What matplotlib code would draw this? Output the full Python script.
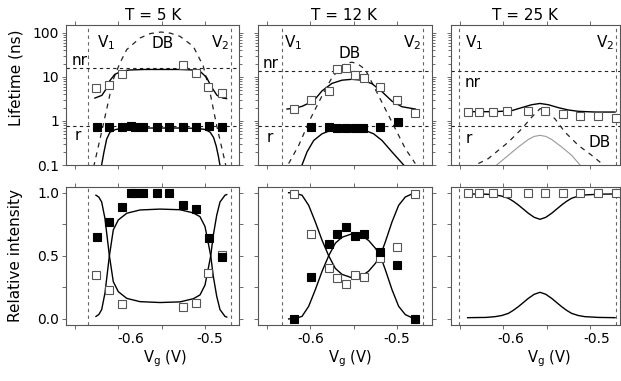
import matplotlib
matplotlib.use('Agg')
import matplotlib.pyplot as plt
import matplotlib.transforms as mtransforms
from matplotlib.ticker import FixedLocator, LogLocator, NullFormatter

plt.rcParams['font.family'] = ['DejaVu Sans']
plt.rcParams['mathtext.default'] = 'regular'
plt.rcParams['axes.unicode_minus'] = False

W, H = 621, 381

titles = ['T = 5 K', 'T = 12 K', 'T = 25 K']

# ---------- T = 5 K ----------
vg_5 = [-0.6250, -0.6104, -0.5954, -0.5853, -0.5807, -0.5711, -0.5557, -0.5411, -0.5257, -0.5106, -0.4953, -0.4806]
tau_r_5 = [0.72, 0.74, 0.72, 0.75, 0.74, 0.74, 0.73, 0.73, 0.72, 0.72, 0.78, 0.73]
int_r_5 = [0.65, 0.77, 0.89, 1.0, 1.0, 1.0, 1.0, 1.0, 0.90, 0.87, 0.64, 0.49]
vg_nr_5 = [-0.6258, -0.6104, -0.5954, -0.5256, -0.5103, -0.4961, -0.4806]
tau_nr_5 = [5.5, 6.5, 11.4, 19.0, 12.4, 6.0, 4.3]
int_nr_5 = [0.35, 0.23, 0.116, 0.097, 0.13, 0.36, 0.51]

fit_nr_x_5 = [-0.627, -0.619, -0.613, -0.610, -0.604, -0.596, -0.587, -0.570, -0.550, -0.530,
              -0.513, -0.506, -0.502, -0.498, -0.492, -0.486, -0.479, -0.475]
fit_nr_5 = [3.3, 3.8, 5.7, 8.1, 11.4, 13.5, 14.3, 14.7, 14.7, 14.7, 14.3, 13.5, 11.5, 9.6, 5.7, 3.8, 3.3, 3.2]
fit_r_x_5 = [-0.6195, -0.6165, -0.6134, -0.6096, -0.603, -0.594, -0.570, -0.550, -0.530, -0.510,
             -0.500, -0.494, -0.490, -0.487, -0.4845, -0.4825]
fit_r_5 = [0.095, 0.2, 0.39, 0.557, 0.64, 0.68, 0.69, 0.69, 0.69, 0.68, 0.64, 0.557, 0.42, 0.27, 0.16, 0.095]
db_x_5 = [-0.6285, -0.6211, -0.6134, -0.6058, -0.5980, -0.5903, -0.5750, -0.5630, -0.5507, -0.5400,
          -0.5288, -0.5134, -0.5019, -0.4941, -0.4864, -0.4768, -0.4755]
db_5 = [0.09, 0.39, 1.86, 8.8, 20.8, 41.5, 76, 96, 104, 98, 83, 49, 17.5, 4.4, 0.78, 0.118, 0.09]
int_x_5 = [-0.6258, -0.6225, -0.6192, -0.6154, -0.6104, -0.6058, -0.6000, -0.5903, -0.5750, -0.5519,
           -0.5288, -0.5134, -0.5057, -0.4999, -0.4961, -0.4933, -0.4903, -0.4864, -0.4826, -0.4768, -0.4748]
dip_5 = [0.98, 0.965, 0.926, 0.795, 0.505, 0.295, 0.216, 0.163, 0.137, 0.13, 0.135, 0.16, 0.19,
         0.268, 0.4, 0.5, 0.663, 0.82, 0.926, 0.98, 0.985]
hump_5 = [0.02, 0.035, 0.074, 0.205, 0.495, 0.705, 0.784, 0.837, 0.863, 0.87, 0.865, 0.84, 0.81,
          0.732, 0.6, 0.5, 0.337, 0.18, 0.074, 0.02, 0.015]

# ---------- T = 12 K ----------
vg_12 = [-0.6192, -0.5989, -0.5788, -0.5692, -0.5588, -0.5487, -0.5384, -0.5192, -0.4999, -0.4795]
tau_nr_12 = [1.86, 2.96, 4.8, 14.7, 16.1, 10.8, 9.6, 5.9, 2.96, 1.49]
int_nr_12 = [0.99, 0.671, 0.405, 0.321, 0.274, 0.347, 0.332, 0.484, 0.571, 0.99]
int_r_12 = [0.0, 0.332, 0.597, 0.676, 0.729, 0.658, 0.671, 0.531, 0.431, 0.0]
vg_r_12 = [-0.5992, -0.5790, -0.5694, -0.5588, -0.5486, -0.5386, -0.5190, -0.4985]
tau_r_12 = [0.745, 0.72, 0.707, 0.70, 0.70, 0.696, 0.745, 0.93]

fit_nr_x_12 = [-0.6269, -0.6180, -0.6096, -0.5961, -0.5865, -0.5750, -0.5634, -0.5519, -0.5403, -0.5288,
               -0.5172, -0.5057, -0.4942, -0.4788]
fit_nr_12 = [1.86, 1.95, 2.14, 2.86, 4.8, 7.1, 8.4, 8.8, 8.4, 7.0, 4.6, 2.8, 2.1, 1.86]
fit_r_x_12 = [-0.6096, -0.6038, -0.5961, -0.5865, -0.5769, -0.5673, -0.5519, -0.5365, -0.5269, -0.5172,
              -0.5057, -0.4922]
fit_r_12 = [0.1, 0.198, 0.36, 0.51, 0.607, 0.63, 0.63, 0.607, 0.51, 0.36, 0.198, 0.1]
db_x_12 = [-0.6250, -0.6134, -0.6000, -0.5865, -0.5750, -0.5634, -0.5580, -0.5519, -0.5450, -0.5365,
           -0.5249, -0.5134, -0.5018, -0.4903, -0.4788]
db_12 = [0.108, 0.279, 1.11, 3.7, 9.6, 17.5, 20.5, 21.5, 19.5, 14.7, 5.2, 1.86, 0.66, 0.235, 0.108]
int_x_12 = [-0.6250, -0.6173, -0.6096, -0.6019, -0.5942, -0.5865, -0.5788, -0.5711, -0.5634, -0.5519,
            -0.5403, -0.5326, -0.5249, -0.5192, -0.5134, -0.5057, -0.4980, -0.4903, -0.4795]
dip_12 = [1.0, 0.995, 0.98, 0.90, 0.768, 0.624, 0.5, 0.4, 0.353, 0.326, 0.342, 0.379, 0.44, 0.5,
          0.61, 0.768, 0.90, 0.966, 1.0]
hump_12 = [0.0, 0.005, 0.02, 0.10, 0.232, 0.376, 0.5, 0.6, 0.647, 0.674, 0.658, 0.621, 0.56, 0.5,
           0.39, 0.232, 0.10, 0.034, 0.0]

# ---------- T = 25 K ----------
vg_25 = [-0.6412, -0.6277, -0.6115, -0.5962, -0.5711, -0.5519, -0.5307, -0.5114, -0.4910, -0.4703]
tau_nr_25 = [1.62, 1.62, 1.62, 1.71, 1.71, 1.71, 1.44, 1.32, 1.27, 1.15]
int_nr_25 = [1.0, 1.0, 1.0, 1.0, 1.0, 1.0, 1.0, 1.0, 1.0, 1.0]

fit_nr_x_25 = [-0.6412, -0.6096, -0.5904, -0.5788, -0.5673, -0.5576, -0.5480, -0.5365, -0.5249, -0.5134,
               -0.4941, -0.4710]
fit_nr_25 = [1.62, 1.62, 1.71, 2.0, 2.33, 2.49, 2.33, 2.0, 1.77, 1.65, 1.59, 1.59]
fit_r_x_25 = [-0.6077, -0.5942, -0.5827, -0.5711, -0.5644, -0.5576, -0.5509, -0.5442, -0.5326, -0.5211, -0.5114]
fit_r_25 = [0.1, 0.166, 0.256, 0.38, 0.445, 0.47, 0.445, 0.38, 0.256, 0.166, 0.1]
db_x_25 = [-0.6288, -0.6173, -0.5942, -0.5788, -0.5673, -0.5576, -0.5519, -0.5403, -0.5288, -0.5134,
           -0.4980, -0.4864]
db_25 = [0.108, 0.14, 0.33, 0.66, 1.21, 1.9, 1.8, 1.11, 0.556, 0.279, 0.166, 0.108]
int_x_25 = [-0.6412, -0.6200, -0.6096, -0.6019, -0.5942, -0.5885, -0.5827, -0.5769, -0.5711, -0.5644,
            -0.5576, -0.5509, -0.5442, -0.5384, -0.5326, -0.5269, -0.5211, -0.5134, -0.5057, -0.4900, -0.4710]
bump_25 = [0.01, 0.012, 0.018, 0.027, 0.044, 0.068, 0.097, 0.13, 0.163, 0.195, 0.211, 0.195, 0.163,
           0.13, 0.097, 0.068, 0.044, 0.027, 0.018, 0.012, 0.01]
dip_25 = [0.99, 0.988, 0.982, 0.973, 0.956, 0.932, 0.903, 0.87, 0.837, 0.805, 0.789, 0.805, 0.837,
          0.87, 0.903, 0.932, 0.956, 0.973, 0.982, 0.988, 0.99]

# gate voltages V1/V2 and the nr / r reference lifetimes of each panel
v_lines = [(-0.635, -0.470), (-0.633, -0.4695), (-0.6508, -0.4699)]
nr_level = [16.2, 13.5, 13.5]
r_level = [0.785, 0.76, 0.76]

# ---------- layout (pixels) ----------
def box(l, t, r, b):
    return [l / W, 1 - b / H, (r - l) / W, (b - t) / H]

cols = [(66, 239.3), (258, 432), (451, 620)]
xlims = [(-0.6604, -0.4603), (-0.6604, -0.4595), (-0.6604, -0.4653)]
tick_shift = [(13, 5), (0, 0), (7, 7)]

fig = plt.figure(figsize=(W / 100, H / 100), dpi=100)

frame = '#555555'
open_kw = dict(marker='s', ms=6, mfc='white', mec='#555555', mew=0.8, ls='none', zorder=5)
fill_kw = dict(marker='s', ms=6, mfc='black', mec='black', mew=0.8, ls='none', zorder=5)
vdash = dict(color='#666666', lw=0.8, ls=(0, (3, 3)), zorder=1)
hdash = dict(color='#222222', lw=0.8, ls=(0, (3, 3)), zorder=1)
dbdash = dict(color='#222222', lw=0.9, ls=(0, (4, 4)), zorder=2)
fit = dict(color='black', lw=1.0, zorder=3)

top_axes = []
bot_axes = []
for i, (l, r) in enumerate(cols):
    at = fig.add_axes(box(l, 25, r, 165))
    ab = fig.add_axes(box(l, 187, r, 325))
    top_axes.append(at)
    bot_axes.append(ab)

    for ax in (at, ab):
        ax.set_xlim(*xlims[i])
        for s in ax.spines.values():
            s.set_color(frame)
            s.set_linewidth(0.8)
        ax.xaxis.set_major_locator(FixedLocator([-0.6, -0.5]))
        ax.xaxis.set_minor_locator(FixedLocator([-0.65, -0.55]))
        ax.tick_params(which='both', direction='out', length=3, width=0.6, color=frame,
                       top=True, right=True, labelsize=10, pad=2)
        ax.axvline(v_lines[i][0], **vdash)
        ax.axvline(v_lines[i][1], **vdash)

    # lifetimes
    at.set_yscale('log')
    at.set_ylim(0.1, 150)
    at.yaxis.set_major_locator(FixedLocator([0.1, 1, 10, 100]))
    at.yaxis.set_minor_locator(LogLocator(base=10, subs=[2, 3, 4, 5, 6, 7, 8, 9]))
    at.yaxis.set_minor_formatter(NullFormatter())
    at.tick_params(which='minor', axis='y', length=2)
    at.set_xticklabels([])
    at.axhline(nr_level[i], **hdash)
    at.axhline(r_level[i], **hdash)

    # intensities
    ab.set_ylim(-0.048, 1.045)
    ab.yaxis.set_major_locator(FixedLocator([0.0, 0.5, 1.0]))
    ab.yaxis.set_minor_locator(FixedLocator([0.25, 0.75]))
    ab.set_xticklabels(['-0.6', '-0.5'])
    for lbl, dx in zip(ab.get_xticklabels(), tick_shift[i]):
        lbl.set_transform(lbl.get_transform() + mtransforms.ScaledTranslation(dx / 100, 0, fig.dpi_scale_trans))

    if i == 0:
        at.set_yticklabels(['0.1', '1', '10', '100'])
        ab.set_yticklabels(['0.0', '0.5', '1.0'])
    else:
        at.set_yticklabels([])
        ab.set_yticklabels([])

# T = 5 K
at, ab = top_axes[0], bot_axes[0]
at.plot(db_x_5, db_5, **dbdash)
at.plot(fit_nr_x_5, fit_nr_5, **fit)
at.plot(fit_r_x_5, fit_r_5, **fit)
at.plot(vg_nr_5, tau_nr_5, **open_kw)
at.plot(vg_5, tau_r_5, **fill_kw)
ab.plot(int_x_5, dip_5, **fit)
ab.plot(int_x_5, hump_5, **fit)
ab.plot(vg_nr_5, int_nr_5, **open_kw)
ab.plot(vg_5, int_r_5, **fill_kw)

# T = 12 K
at, ab = top_axes[1], bot_axes[1]
at.plot(db_x_12, db_12, **dbdash)
at.plot(fit_nr_x_12, fit_nr_12, **fit)
at.plot(fit_r_x_12, fit_r_12, **fit)
at.plot(vg_12, tau_nr_12, **open_kw)
at.plot(vg_r_12, tau_r_12, **fill_kw)
ab.plot(int_x_12, dip_12, **fit)
ab.plot(int_x_12, hump_12, **fit)
ab.plot(vg_12, int_nr_12, **open_kw)
ab.plot(vg_12, int_r_12, **fill_kw)

# T = 25 K
at, ab = top_axes[2], bot_axes[2]
at.plot(db_x_25, db_25, **dbdash)
at.plot(fit_nr_x_25, fit_nr_25, **fit)
at.plot(fit_r_x_25, fit_r_25, color='#999999', lw=0.8, zorder=3)
at.plot(vg_25, tau_nr_25, **open_kw)
ab.plot(int_x_25, dip_25, **fit)
ab.plot(int_x_25, bump_25, **fit)
ab.plot(vg_25, int_nr_25, **open_kw)

# ---------- text ----------
def ftext(x, y, s, **kw):
    fig.text(x / W, 1 - y / H, s, **kw)

for x, t in zip([153, 344, 525], titles):
    ftext(x, 20, t, ha='center', va='baseline', fontsize=11)

lab = dict(fontsize=11, va='baseline')
# 5 K labels
ftext(97, 47, 'V$_1$', **lab)
ftext(211, 47, 'V$_2$', **lab)
ftext(163, 48, 'DB', ha='center', **lab)
ftext(72, 65, 'nr', **lab)
ftext(75, 140, 'r', **lab)
# 12 K labels
ftext(284, 47, 'V$_1$', **lab)
ftext(403, 47, 'V$_2$', **lab)
ftext(350, 58, 'DB', ha='center', **lab)
ftext(263, 68, 'nr', **lab)
ftext(267, 142, 'r', **lab)
# 25 K labels
ftext(465, 47, 'V$_1$', **lab)
ftext(596, 47, 'V$_2$', **lab)
ftext(465, 87, 'nr', **lab)
ftext(466, 143, 'r', **lab)
ftext(600, 147, 'DB', ha='center', **lab)

ftext(16, 78, 'Lifetime (ns)', rotation=90, ha='center', va='center', fontsize=11)
ftext(16, 255, 'Relative intensity', rotation=90, ha='center', va='center', fontsize=11)
for x in [165, 350, 549]:
    ftext(x, 362, 'V$_g$ (V)', ha='center', va='baseline', fontsize=10.5)

fig.savefig('out.png', dpi=100)
